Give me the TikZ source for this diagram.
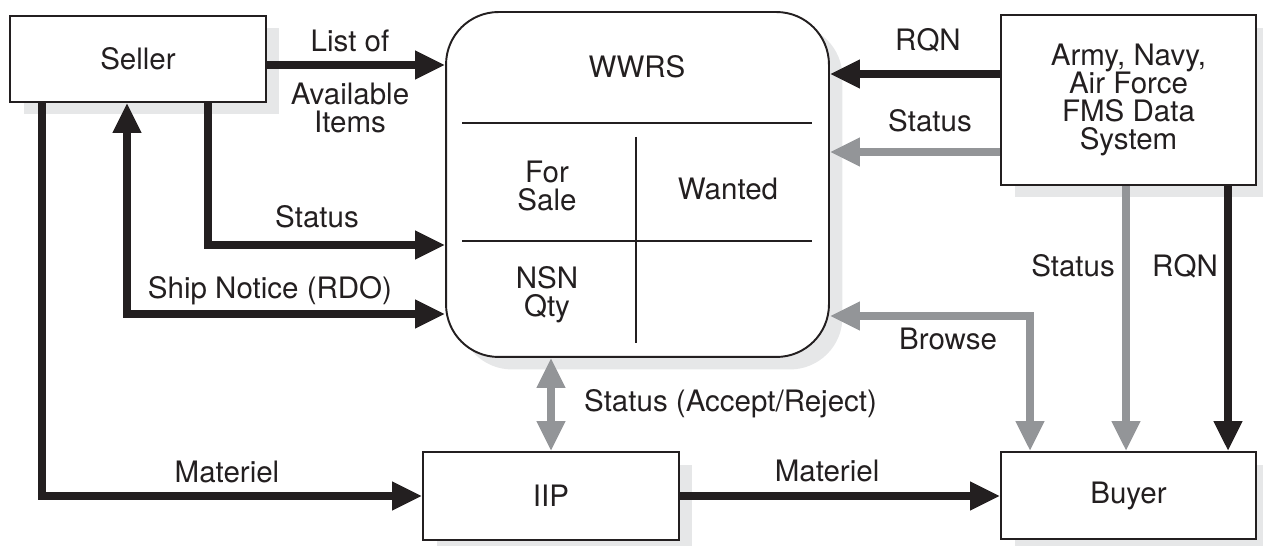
\documentclass[tikz,border=0pt]{standalone}
\usepackage{fontspec}
\setmainfont{TeX Gyre Heros}
\usepackage{xcolor}
\usepackage{tikz}
\usetikzlibrary{arrows.meta}
\usetikzlibrary{shadows}
\usetikzlibrary{positioning}

\definecolor{ink}{HTML}{231F20}
\definecolor{flowgray}{HTML}{939598}
\definecolor{shadegray}{HTML}{E6E7E8}

\begin{document}
\begin{tikzpicture}[x=0.02cm,y=-0.02cm,
	every node/.style={text=ink,font=\fontsize{16.8}{16}\selectfont,align=center},
	>={Triangle[length=0.6cm,width=0.54cm]},
	box/.style={draw=ink,line width=1.1pt,fill=white,inner sep=0pt,
		drop shadow={shadow xshift=0.27cm,shadow yshift=-0.25cm,fill=shadegray,opacity=1}},
	flow/.style={->,draw=ink,line width=4.2pt,line join=miter},
	grayflow/.style={flow,draw=flowgray}]
	\useasboundingbox (0,0) rectangle (1263,546);
	\node[box,minimum width=5.12cm,minimum height=1.72cm] (seller) at (138,59) {Seller};
	\node[box,minimum width=7.66cm,minimum height=6.9cm,rounded corners=1.05cm] (wwrs) at (637.5,184.5) {};
	\node[box,minimum width=5.1cm,minimum height=3.4cm] (army) at (1128.5,100) {Army, Navy,\\Air Force\\FMS Data\\System};
	\node[box,minimum width=5.12cm,minimum height=1.76cm] (iip) at (551,496) {IIP};
	\node[box,minimum width=5.1cm,minimum height=1.74cm] (buyer) at (1128.5,495.5) {Buyer};
	\draw[ink,line width=1.1pt] (462,123) -- (812,123);
	\draw[ink,line width=1.1pt] (462,241) -- (812,241);
	\draw[ink,line width=1.1pt] (636,137) -- (636,343);
	\node (wwrstitle) at (637,67) {WWRS};
	\node (forsale) at (547,186) {For\\Sale};
	\node (wanted) at (728,189) {Wanted};
	\node (nsnqty) at (547,295) {NSN\\Qty};
	\draw[flow] (seller.east |- 0,65) -- (wwrs.west |- 0,65);
	\draw[flow] (seller.south -| 208,0) |- (wwrs.west |- 0,245);
	\draw[flow,<->] (seller.south -| 127,0) |- (wwrs.west |- 0,314);
	\draw[flow] (seller.south -| 42,0) |- (iip.west);
	\draw[flow] (iip.east) -- (buyer.west |- iip.east);
	\draw[grayflow,<->] (iip.north |- wwrs.south) -- (iip.north);
	\draw[flow] (army.west |- 0,74) -- (wwrs.east |- 0,74);
	\draw[grayflow] (army.west |- 0,152) -- (wwrs.east |- 0,152);
	\draw[grayflow] (army.south -| 1126,0) -- (buyer.north -| 1126,0);
	\draw[flow] (army.south -| 1228,0) -- (buyer.north -| 1228,0);
	\draw[grayflow,<->] (buyer.north -| 1030,0) |- (wwrs.east |- 0,316);
	\node (listof) at (350,41) {List of};
	\node (avail) at (350,108) {Available\\Items};
	\node (statusseller) at (317,217) {Status};
	\node (shipnotice) at (270,291) {Ship Notice (RDO)};
	\node (materielin) at (227,472) {Materiel};
	\node (materielout) at (827,471) {Materiel};
	\node[anchor=west] (acceptreject) at (578,404) {Status (Accept/Reject)};
	\node (rqnarmy) at (928,40) {RQN};
	\node (statusarmy) at (930,121) {Status};
	\node (browse) at (948,339) {Browse};
	\node (statusbuyer) at (1073,266) {Status};
	\node (rqnbuyer) at (1185,266) {RQN};
\end{tikzpicture}
\end{document}
